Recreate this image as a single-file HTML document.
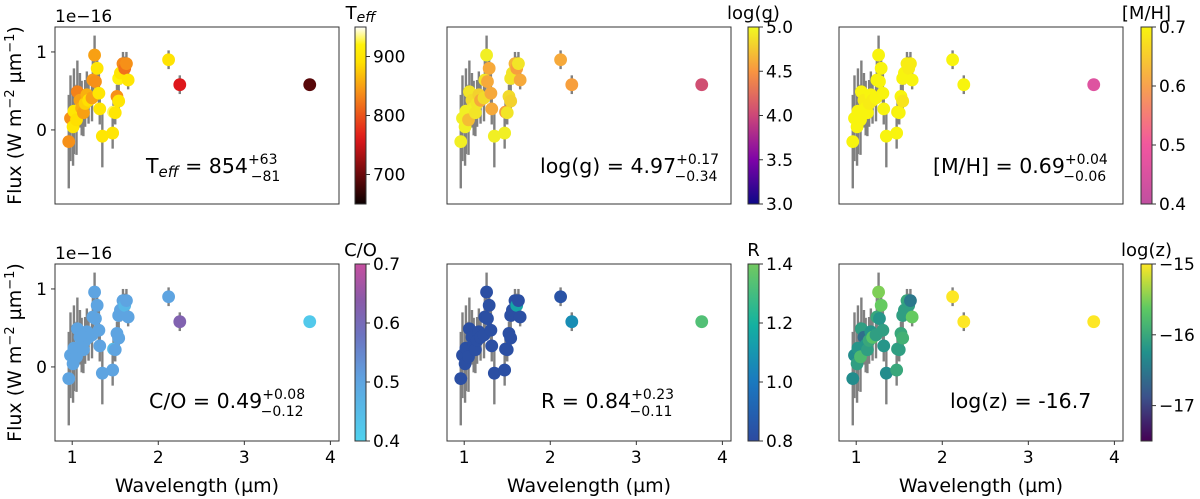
<!DOCTYPE html>
<html><head><meta charset="utf-8">
<style>
body{margin:0;background:#fff;}
svg{display:block;font-family:"DejaVu Sans","Liberation Sans",sans-serif;}
</style></head>
<body>
<svg id="fig" width="1200" height="499" viewBox="0 0 1200 499" xmlns="http://www.w3.org/2000/svg"></svg>
<script>
const wavelength=[0.96,0.98,1.01,1.02,1.05,1.06,1.09,1.11,1.13,1.15,1.17,1.19,1.23,1.24,1.26,1.27,1.29,1.31,1.32,1.35,1.47,1.48,1.50,1.52,1.54,1.54,1.56,1.59,1.61,1.63,1.65,2.12,2.25,3.76];
const flux=[-0.15,0.15,0.04,0.24,0.13,0.49,0.38,0.28,0.22,0.34,0.45,0.38,0.41,0.64,0.96,0.62,0.79,0.47,0.27,-0.08,-0.04,0.23,0.22,0.43,0.37,0.66,0.73,0.85,0.79,0.85,0.64,0.90,0.58,0.58];
const fluxErr=[0.6,0.55,0.5,0.55,0.45,0.4,0.35,0.35,0.3,0.3,0.3,0.3,0.3,0.3,0.25,0.25,0.2,0.25,0.2,0.4,0.2,0.15,0.15,0.15,0.15,0.15,0.15,0.15,0.15,0.15,0.12,0.12,0.12,0.05];
const teff=[840,840,900,900,890,830,850,860,850,880,860,890,850,845,850,840,900,900,900,900,900,930,900,840,900,920,900,835,820,840,900,895,760,690];
const logg=[4.95,4.95,4.95,4.95,4.7,4.9,4.85,4.95,4.9,4.9,4.8,4.6,4.85,4.9,4.95,4.6,4.6,4.6,4.6,4.95,4.95,4.55,4.9,4.85,4.8,4.9,4.9,4.65,4.55,4.9,4.6,4.6,4.55,4.05];
const metal=[0.7,0.7,0.7,0.7,0.7,0.7,0.69,0.7,0.7,0.69,0.7,0.69,0.7,0.7,0.7,0.7,0.7,0.7,0.7,0.7,0.7,0.69,0.7,0.7,0.68,0.7,0.7,0.69,0.69,0.69,0.7,0.7,0.7,0.46];
const co=[0.5,0.5,0.5,0.5,0.5,0.5,0.5,0.5,0.5,0.5,0.5,0.5,0.5,0.5,0.5,0.5,0.5,0.5,0.5,0.5,0.5,0.45,0.5,0.5,0.5,0.5,0.5,0.5,0.46,0.5,0.5,0.5,0.62,0.42];
const radius=[0.82,0.82,0.82,0.82,0.82,0.82,0.82,0.82,0.82,0.82,0.82,0.82,0.82,0.82,0.82,0.82,0.82,0.82,0.82,0.82,0.82,0.82,0.82,0.82,0.82,0.82,0.82,0.82,1.15,0.82,0.82,0.84,1.07,1.33];
const logz=[-16.3,-16.3,-16.1,-16.2,-15.8,-16.1,-16.6,-16.2,-16.1,-16.0,-16.2,-15.7,-16.1,-16.0,-15.5,-16.2,-15.6,-16.1,-16.2,-16.3,-16.0,-16.1,-16.1,-16.0,-15.9,-16.1,-16.1,-16.0,-16.1,-16.5,-15.6,-15.0,-15.0,-15.0];
const xTicks=[1,2,3,4];
const yTicks=[0,1];

const hot=[[0,'#0b0000'],[0.37,'#e0171b'],[0.62,'#f58a1a'],[0.8,'#ffe000'],[0.9,'#fff20a'],[1,'#ffffff']];
const plasma=[[0,'#0d0887'],[0.25,'#7e03a8'],[0.5,'#cc4778'],[0.75,'#f89540'],[1,'#f0f921']];
const spring=[[0,'#c04fa0'],[0.33,'#f256a0'],[0.66,'#f7a050'],[1,'#f8f40e']];
const cool=[[0,'#4fd2ee'],[0.35,'#5fa2e0'],[0.6,'#6d73c0'],[0.8,'#8b5aa8'],[1,'#c64fa0']];
const rmap=[[0,'#2d4aa0'],[0.33,'#1a78c0'],[0.66,'#14b2a0'],[1,'#72c860']];
const viridis=[[0,'#440154'],[0.25,'#3b528b'],[0.5,'#21918c'],[0.75,'#5ec962'],[1,'#fde725']];

function hex(c){return [1,3,5].map(i=>parseInt(c.substr(i,2),16));}
function cmap(stops,t){t=Math.max(0,Math.min(1,t));for(let i=1;i<stops.length;i++){if(t<=stops[i][0]){const a=stops[i-1],b=stops[i];const f=(t-a[0])/(b[0]-a[0]);const A=hex(a[1]),B=hex(b[1]);return 'rgb('+A.map((v,k)=>Math.round(v+(B[k]-v)*f)).join(',')+')';}}return stops[stops.length-1][1];}

const NS='http://www.w3.org/2000/svg';
const svg=document.getElementById('fig');
function mk(tag,attrs,parent){const e=document.createElementNS(NS,tag);for(const k in attrs)e.setAttribute(k,attrs[k]);(parent||svg).appendChild(e);return e;}

const panels=[
 {vals:teff,cm:hot,vmin:650,vmax:950,ticks:[700,800,900],tl:['700','800','900'],title:'T<tspan font-style="italic" font-size="14" dy="3">eff</tspan>',ann:'T<tspan font-style="italic" font-size="15" dy="4">eff</tspan><tspan dy="-4"> = 854</tspan>',sup:'+63',sub:'\u221281',ax:146,row:0,col:0,name:'teff'},
 {vals:logg,cm:plasma,vmin:3,vmax:5,ticks:[3,3.5,4,4.5,5],tl:['3.0','3.5','4.0','4.5','5.0'],title:'log(g)',ann:'log(g) = 4.97',sup:'+0.17',sub:'\u22120.34',ax:540,row:0,col:1,name:'logg'},
 {vals:metal,cm:spring,vmin:0.4,vmax:0.7,ticks:[0.4,0.5,0.6,0.7],tl:['0.4','0.5','0.6','0.7'],title:'[M/H]',ann:'[M/H] = 0.69',sup:'+0.04',sub:'\u22120.06',ax:933,row:0,col:2,name:'metallicity'},
 {vals:co,cm:cool,vmin:0.4,vmax:0.7,ticks:[0.4,0.5,0.6,0.7],tl:['0.4','0.5','0.6','0.7'],title:'C/O',ann:'C/O = 0.49',sup:'+0.08',sub:'\u22120.12',ax:149,row:1,col:0,name:'c-to-o'},
 {vals:radius,cm:rmap,vmin:0.8,vmax:1.4,ticks:[0.8,1.0,1.2,1.4],tl:['0.8','1.0','1.2','1.4'],title:'R',ann:'R = 0.84',sup:'+0.23',sub:'\u22120.11',ax:541,row:1,col:1,name:'radius'},
 {vals:logz,cm:viridis,vmin:-17.5,vmax:-15,ticks:[-17,-16,-15],tl:['\u221217','\u221216','\u221215'],title:'log(z)',ann:'log(z) = -16.7',sup:null,sub:null,ax:950,row:1,col:2,name:'logz'}
];

panels.forEach(p=>{
 const L=[55,447,839][p.col], W=284, T=p.row?264:27, H=177;
 const cbx=[355,748,1141][p.col], cbw=11;
 const xs=v=>L+(v-0.8)/(4.1-0.8)*W;
 const ys=v=>T+(1.32-v)/(1.32+0.95)*H;
 const g=mk('g',{});
 
 
 const cid='clip'+p.name;
 const cp=mk('clipPath',{id:cid},g);mk('rect',{x:L,y:T,width:W,height:H},cp);
 const plot=mk('g',{'clip-path':'url(#'+cid+')'},g);
 wavelength.forEach((w,i)=>{
  const l=mk('line',{x1:xs(w),x2:xs(w),y1:ys(flux[i]-fluxErr[i]),y2:ys(flux[i]+fluxErr[i]),stroke:'#808080','stroke-width':2.4},plot);
  
  
 });
 wavelength.forEach((w,i)=>{
  const c=mk('circle',{cx:xs(w),cy:ys(flux[i]),r:6.4,fill:cmap(p.cm,(p.vals[i]-p.vmin)/(p.vmax-p.vmin))},plot);
  
  
 });
 const fr=mk('rect',{x:L,y:T,width:W,height:H,fill:'none',stroke:'#333','stroke-width':1},g);
 
 
 if(p.row===1){
  xTicks.forEach(t=>{
   mk('line',{x1:xs(t),x2:xs(t),y1:T+H,y2:T+H+4,stroke:'#333'},g);
   const tx=mk('text',{x:xs(t),y:T+H+22,'text-anchor':'middle','font-size':17},g);tx.textContent=t;
   
   
  });
  const xl=mk('text',{x:L+W/2,y:492,'text-anchor':'middle','font-size':19},g);xl.textContent='Wavelength (\u00b5m)';
  
  
 }
 if(p.col===0){
  yTicks.forEach(t=>{
   mk('line',{x1:L-4,x2:L,y1:ys(t),y2:ys(t),stroke:'#333'},g);
   const tx=mk('text',{x:L-8,y:ys(t)+6,'text-anchor':'end','font-size':17},g);tx.textContent=t;
   
   
  });
  const off=mk('text',{x:L,y:T-5,'font-size':17},g);off.textContent='1e\u221216';
  
  
  const cy=T+H/2;
  const yl=mk('text',{x:0,y:0,'text-anchor':'middle','font-size':19,transform:'translate(21,'+cy+') rotate(-90)'},g);
  yl.innerHTML='Flux (W m<tspan font-size="13" dy="-7">\u22122</tspan><tspan dy="7"> \u00b5m</tspan><tspan font-size="13" dy="-7">\u22121</tspan><tspan dy="7">)</tspan>';
  
  
 }
 const an=mk('text',{x:p.ax,y:T+(p.row?144:146),'font-size':20.5},g);
 let s=p.ann;
 if(p.sup){s+='<tspan font-size="14" dy="-9">'+p.sup+'</tspan><tspan font-size="14" dx="-'+(p.sup.length*8.9)+'" dy="17">'+p.sub+'</tspan>';}
 an.innerHTML=s;
 
 
 const gid='grad'+p.name;
 const gr=mk('linearGradient',{id:gid,x1:0,y1:1,x2:0,y2:0},g);
 for(let k=0;k<=20;k++){mk('stop',{offset:k/20,'stop-color':cmap(p.cm,k/20)},gr);}
 const cb=mk('rect',{x:cbx,y:T,width:cbw,height:H,fill:'url(#'+gid+')',stroke:'#333','stroke-width':1},g);
 
 
 p.ticks.forEach((t,k)=>{
  const y=T+H-(t-p.vmin)/(p.vmax-p.vmin)*H;
  mk('line',{x1:cbx+cbw,x2:cbx+cbw+4,y1:y,y2:y,stroke:'#333'},g);
  const tx=mk('text',{x:cbx+cbw+7,y:y+6,'font-size':17},g);tx.textContent=p.tl[k];
  
  
 });
 const ct=mk('text',{x:cbx+cbw/2,y:T-8,'text-anchor':'middle','font-size':18},g);ct.innerHTML=p.title;
 
 
});
</script>
</body></html>
